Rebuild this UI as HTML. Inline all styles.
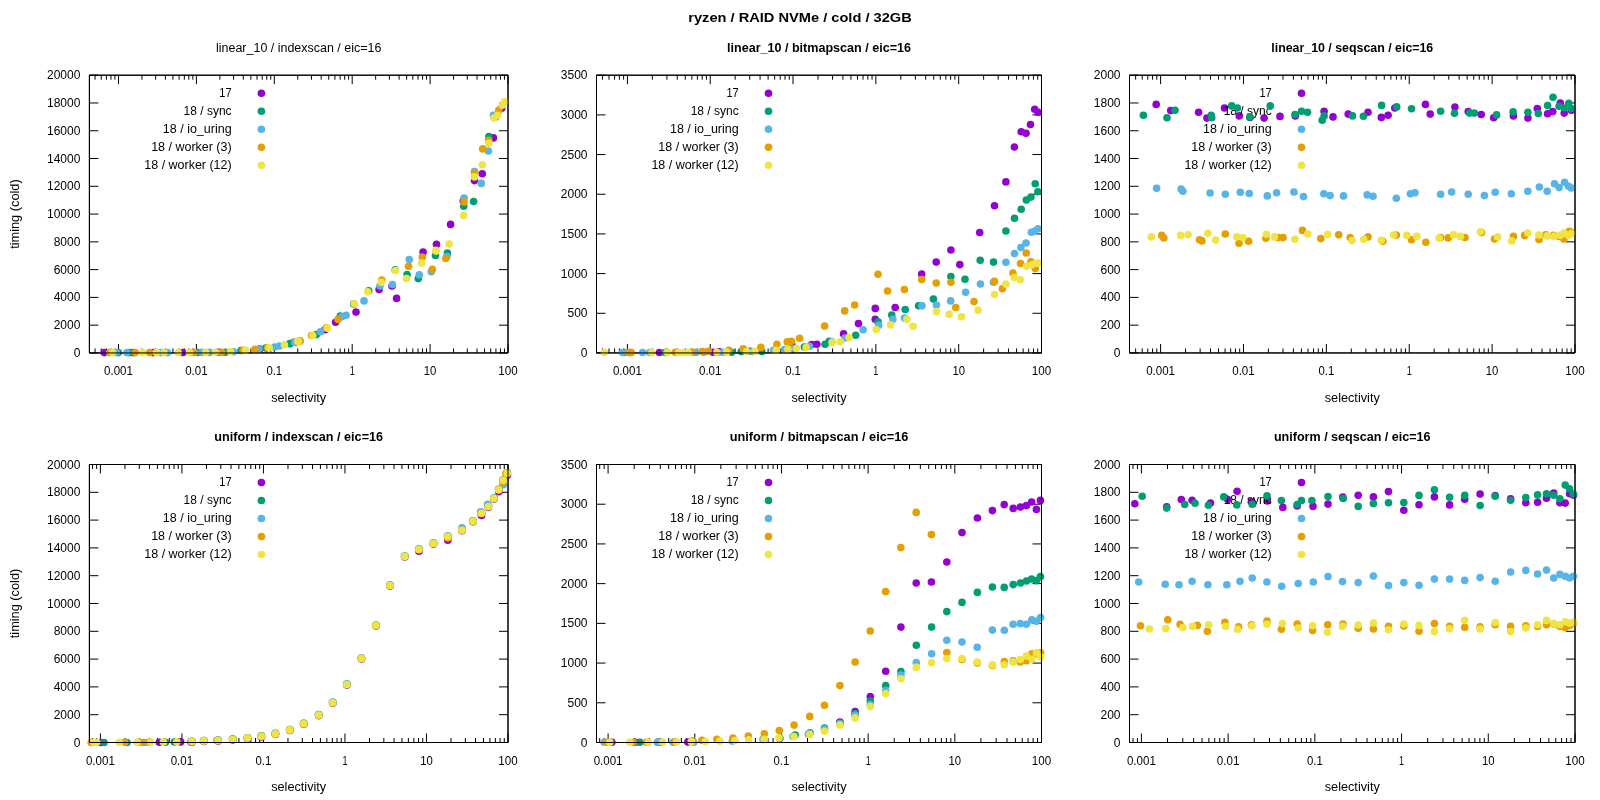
<!DOCTYPE html>
<html><head><meta charset="utf-8"><title>chart</title>
<style>html,body{margin:0;padding:0;background:#fff}svg{display:block;will-change:transform}text{font-family:"Liberation Sans",sans-serif;fill:#000}</style>
</head><body>
<svg width="1600" height="800" viewBox="0 0 1600 800">
<rect width="1600" height="800" fill="#fff"/>
<text x="800" y="22.4" text-anchor="middle" font-size="13.33" font-weight="bold" textLength="223.5" lengthAdjust="spacingAndGlyphs">ryzen / RAID NVMe / cold / 32GB</text>
<text x="80.4" y="356.95" text-anchor="end" font-size="12">0</text>
<text x="80.4" y="329.18" text-anchor="end" font-size="12">2000</text>
<text x="80.4" y="301.4" text-anchor="end" font-size="12">4000</text>
<text x="80.4" y="273.62" text-anchor="end" font-size="12">6000</text>
<text x="80.4" y="245.85" text-anchor="end" font-size="12">8000</text>
<text x="80.4" y="218.07" text-anchor="end" font-size="12">10000</text>
<text x="80.4" y="190.3" text-anchor="end" font-size="12">12000</text>
<text x="80.4" y="162.52" text-anchor="end" font-size="12">14000</text>
<text x="80.4" y="134.75" text-anchor="end" font-size="12">16000</text>
<text x="80.4" y="106.97" text-anchor="end" font-size="12">18000</text>
<text x="80.4" y="79.2" text-anchor="end" font-size="12">20000</text>
<text x="118.5" y="375.05" text-anchor="middle" font-size="12" textLength="28.9" lengthAdjust="spacingAndGlyphs">0.001</text>
<text x="196.4" y="375.05" text-anchor="middle" font-size="12" textLength="22.5" lengthAdjust="spacingAndGlyphs">0.01</text>
<text x="274.3" y="375.05" text-anchor="middle" font-size="12" textLength="15.8" lengthAdjust="spacingAndGlyphs">0.1</text>
<text x="352.2" y="375.05" text-anchor="middle" font-size="12" textLength="5" lengthAdjust="spacingAndGlyphs">1</text>
<text x="430.1" y="375.05" text-anchor="middle" font-size="12" textLength="12.6" lengthAdjust="spacingAndGlyphs">10</text>
<text x="508" y="375.05" text-anchor="middle" font-size="12" textLength="19.4" lengthAdjust="spacingAndGlyphs">100</text>
<path d="M89.4 75.2H508V352.95H89.4ZM89.4 352.95h9M508 352.95h-9M89.4 325.18h9M508 325.18h-9M89.4 297.4h9M508 297.4h-9M89.4 269.62h9M508 269.62h-9M89.4 241.85h9M508 241.85h-9M89.4 214.07h9M508 214.07h-9M89.4 186.3h9M508 186.3h-9M89.4 158.52h9M508 158.52h-9M89.4 130.75h9M508 130.75h-9M89.4 102.97h9M508 102.97h-9M89.4 75.2h9M508 75.2h-9M95.05 352.95v-4.5M95.05 75.2v4.5M101.22 352.95v-4.5M101.22 75.2v4.5M106.43 352.95v-4.5M106.43 75.2v4.5M110.95 352.95v-4.5M110.95 75.2v4.5M114.94 352.95v-4.5M114.94 75.2v4.5M118.5 352.95v-9M118.5 75.2v9M141.95 352.95v-4.5M141.95 75.2v4.5M155.67 352.95v-4.5M155.67 75.2v4.5M165.4 352.95v-4.5M165.4 75.2v4.5M172.95 352.95v-4.5M172.95 75.2v4.5M179.12 352.95v-4.5M179.12 75.2v4.5M184.33 352.95v-4.5M184.33 75.2v4.5M188.85 352.95v-4.5M188.85 75.2v4.5M192.84 352.95v-4.5M192.84 75.2v4.5M196.4 352.95v-9M196.4 75.2v9M219.85 352.95v-4.5M219.85 75.2v4.5M233.57 352.95v-4.5M233.57 75.2v4.5M243.3 352.95v-4.5M243.3 75.2v4.5M250.85 352.95v-4.5M250.85 75.2v4.5M257.02 352.95v-4.5M257.02 75.2v4.5M262.23 352.95v-4.5M262.23 75.2v4.5M266.75 352.95v-4.5M266.75 75.2v4.5M270.74 352.95v-4.5M270.74 75.2v4.5M274.3 352.95v-9M274.3 75.2v9M297.75 352.95v-4.5M297.75 75.2v4.5M311.47 352.95v-4.5M311.47 75.2v4.5M321.2 352.95v-4.5M321.2 75.2v4.5M328.75 352.95v-4.5M328.75 75.2v4.5M334.92 352.95v-4.5M334.92 75.2v4.5M340.13 352.95v-4.5M340.13 75.2v4.5M344.65 352.95v-4.5M344.65 75.2v4.5M348.64 352.95v-4.5M348.64 75.2v4.5M352.2 352.95v-9M352.2 75.2v9M375.65 352.95v-4.5M375.65 75.2v4.5M389.37 352.95v-4.5M389.37 75.2v4.5M399.1 352.95v-4.5M399.1 75.2v4.5M406.65 352.95v-4.5M406.65 75.2v4.5M412.82 352.95v-4.5M412.82 75.2v4.5M418.03 352.95v-4.5M418.03 75.2v4.5M422.55 352.95v-4.5M422.55 75.2v4.5M426.54 352.95v-4.5M426.54 75.2v4.5M430.1 352.95v-9M430.1 75.2v9M453.55 352.95v-4.5M453.55 75.2v4.5M467.27 352.95v-4.5M467.27 75.2v4.5M477 352.95v-4.5M477 75.2v4.5M484.55 352.95v-4.5M484.55 75.2v4.5M490.72 352.95v-4.5M490.72 75.2v4.5M495.93 352.95v-4.5M495.93 75.2v4.5M500.45 352.95v-4.5M500.45 75.2v4.5M504.44 352.95v-4.5M504.44 75.2v4.5M508 352.95v-9M508 75.2v9" fill="none" stroke="#000" stroke-width="1"/>
<text x="298.7" y="51.9" text-anchor="middle" font-size="12" textLength="165.4" lengthAdjust="spacingAndGlyphs">linear_10 / indexscan / eic=16</text>
<text x="298.7" y="401.65" text-anchor="middle" font-size="12" textLength="55" lengthAdjust="spacingAndGlyphs">selectivity</text>
<text transform="translate(18.6 214.07) rotate(-90)" text-anchor="middle" font-size="12" textLength="69.5" lengthAdjust="spacingAndGlyphs">timing (cold)</text>
<text x="231.6" y="96.9" text-anchor="end" font-size="12" textLength="12.25" lengthAdjust="spacingAndGlyphs">17</text>
<g fill="#9400d3"><circle cx="104.2" cy="352.6" r="3.8"/><circle cx="133.1" cy="352.6" r="3.8"/><circle cx="153" cy="352.6" r="3.8"/><circle cx="182.9" cy="352.5" r="3.8"/><circle cx="217.7" cy="352.3" r="3.8"/><circle cx="259.6" cy="349" r="3.8"/><circle cx="294" cy="342.3" r="3.8"/><circle cx="325" cy="329.75" r="3.8"/><circle cx="335.6" cy="322.2" r="3.8"/><circle cx="356" cy="312.1" r="3.8"/><circle cx="379.1" cy="289.6" r="3.8"/><circle cx="392" cy="286" r="3.8"/><circle cx="396.6" cy="298.4" r="3.8"/><circle cx="423.1" cy="252.1" r="3.8"/><circle cx="436.5" cy="244.4" r="3.8"/><circle cx="450.6" cy="224.4" r="3.8"/><circle cx="463.3" cy="200.9" r="3.8"/><circle cx="474.5" cy="180.6" r="3.8"/><circle cx="482.25" cy="173.75" r="3.8"/><circle cx="493.4" cy="137.9" r="3.8"/><circle cx="501.7" cy="108.2" r="3.8"/><circle cx="495.5" cy="117" r="3.8"/><circle cx="261.4" cy="93.2" r="3.8"/></g>
<text x="231.6" y="114.9" text-anchor="end" font-size="12" textLength="48" lengthAdjust="spacingAndGlyphs">18 / sync</text>
<g fill="#009e73"><circle cx="118.3" cy="352.6" r="3.8"/><circle cx="129" cy="352.6" r="3.8"/><circle cx="197.7" cy="352.5" r="3.8"/><circle cx="225.2" cy="352.2" r="3.8"/><circle cx="241" cy="350.5" r="3.8"/><circle cx="265.8" cy="348" r="3.8"/><circle cx="289.9" cy="343.7" r="3.8"/><circle cx="290" cy="343.5" r="3.8"/><circle cx="316.4" cy="334.6" r="3.8"/><circle cx="340.3" cy="316" r="3.8"/><circle cx="353.7" cy="303.9" r="3.8"/><circle cx="368.7" cy="290.7" r="3.8"/><circle cx="395.3" cy="269.9" r="3.8"/><circle cx="407.1" cy="274.5" r="3.8"/><circle cx="418.3" cy="278.6" r="3.8"/><circle cx="435.5" cy="255.5" r="3.8"/><circle cx="447.4" cy="253" r="3.8"/><circle cx="463.75" cy="206.25" r="3.8"/><circle cx="473.6" cy="201.5" r="3.8"/><circle cx="488.9" cy="136.5" r="3.8"/><circle cx="261.4" cy="111.2" r="3.8"/></g>
<text x="231.6" y="132.9" text-anchor="end" font-size="12" textLength="68.75" lengthAdjust="spacingAndGlyphs">18 / io_uring</text>
<g fill="#56b4e9"><circle cx="116.3" cy="352.6" r="3.8"/><circle cx="126.9" cy="352.6" r="3.8"/><circle cx="161.3" cy="352.6" r="3.8"/><circle cx="167.5" cy="352.6" r="3.8"/><circle cx="190.5" cy="352.5" r="3.8"/><circle cx="201.9" cy="352.4" r="3.8"/><circle cx="209.4" cy="352.4" r="3.8"/><circle cx="233.5" cy="351.8" r="3.8"/><circle cx="258.9" cy="349.2" r="3.8"/><circle cx="274.7" cy="347" r="3.8"/><circle cx="279.5" cy="346" r="3.8"/><circle cx="296" cy="342" r="3.8"/><circle cx="294.8" cy="342.4" r="3.8"/><circle cx="320.5" cy="331.8" r="3.8"/><circle cx="342" cy="316.7" r="3.8"/><circle cx="346.1" cy="315.3" r="3.8"/><circle cx="364" cy="300.9" r="3.8"/><circle cx="380" cy="286" r="3.8"/><circle cx="392.4" cy="284.6" r="3.8"/><circle cx="409.3" cy="259.6" r="3.8"/><circle cx="419.25" cy="274.75" r="3.8"/><circle cx="431.3" cy="271.7" r="3.8"/><circle cx="446.9" cy="256.6" r="3.8"/><circle cx="464.1" cy="198.1" r="3.8"/><circle cx="474.5" cy="171.5" r="3.8"/><circle cx="481.25" cy="183.4" r="3.8"/><circle cx="488.4" cy="151" r="3.8"/><circle cx="493.4" cy="115.4" r="3.8"/><circle cx="261.4" cy="129.2" r="3.8"/></g>
<text x="231.6" y="150.9" text-anchor="end" font-size="12" textLength="80.4" lengthAdjust="spacingAndGlyphs">18 / worker (3)</text>
<g fill="#e69f00"><circle cx="109.7" cy="352.6" r="3.8"/><circle cx="135.2" cy="352.6" r="3.8"/><circle cx="149.6" cy="352.6" r="3.8"/><circle cx="194.3" cy="352.5" r="3.8"/><circle cx="221.8" cy="352.3" r="3.8"/><circle cx="243.1" cy="350.4" r="3.8"/><circle cx="254.8" cy="349.2" r="3.8"/><circle cx="267.6" cy="347.8" r="3.8"/><circle cx="300.2" cy="341" r="3.8"/><circle cx="299.6" cy="340.75" r="3.8"/><circle cx="311.5" cy="335.5" r="3.8"/><circle cx="326.4" cy="327.8" r="3.8"/><circle cx="338.1" cy="319.4" r="3.8"/><circle cx="381.8" cy="280" r="3.8"/><circle cx="408.5" cy="266.2" r="3.8"/><circle cx="422.3" cy="257.1" r="3.8"/><circle cx="432.3" cy="269.25" r="3.8"/><circle cx="445.8" cy="258.5" r="3.8"/><circle cx="464.1" cy="201.9" r="3.8"/><circle cx="474.6" cy="172.9" r="3.8"/><circle cx="482.7" cy="148.9" r="3.8"/><circle cx="488.7" cy="140.3" r="3.8"/><circle cx="498.75" cy="110.4" r="3.8"/><circle cx="261.4" cy="147.2" r="3.8"/></g>
<text x="231.6" y="168.9" text-anchor="end" font-size="12" textLength="87.3" lengthAdjust="spacingAndGlyphs">18 / worker (12)</text>
<g fill="#f0e442"><circle cx="112.5" cy="352.6" r="3.8"/><circle cx="142.5" cy="352.6" r="3.8"/><circle cx="156.5" cy="352.6" r="3.8"/><circle cx="164" cy="352.6" r="3.8"/><circle cx="178.2" cy="352.6" r="3.8"/><circle cx="189.5" cy="352.5" r="3.8"/><circle cx="205.7" cy="352.4" r="3.8"/><circle cx="215.6" cy="352.3" r="3.8"/><circle cx="230.5" cy="351.6" r="3.8"/><circle cx="245.6" cy="350.2" r="3.8"/><circle cx="269.2" cy="347.7" r="3.8"/><circle cx="284.4" cy="344.7" r="3.8"/><circle cx="298.4" cy="341.2" r="3.8"/><circle cx="297.6" cy="341.2" r="3.8"/><circle cx="312.7" cy="335.5" r="3.8"/><circle cx="327.4" cy="328.1" r="3.8"/><circle cx="354.2" cy="303.6" r="3.8"/><circle cx="367.7" cy="291.7" r="3.8"/><circle cx="381.2" cy="282.3" r="3.8"/><circle cx="395.6" cy="270.6" r="3.8"/><circle cx="406.5" cy="278.6" r="3.8"/><circle cx="421.7" cy="263" r="3.8"/><circle cx="436" cy="251.1" r="3.8"/><circle cx="435.9" cy="250.25" r="3.8"/><circle cx="449.1" cy="244.1" r="3.8"/><circle cx="463.6" cy="215.4" r="3.8"/><circle cx="474.5" cy="176.9" r="3.8"/><circle cx="482.4" cy="164.7" r="3.8"/><circle cx="488.7" cy="143.25" r="3.8"/><circle cx="494" cy="118" r="3.8"/><circle cx="497.6" cy="115.4" r="3.8"/><circle cx="502.3" cy="105.3" r="3.8"/><circle cx="504.7" cy="101.7" r="3.8"/><circle cx="261.4" cy="165.2" r="3.8"/></g>
<path d="M89.4 75.2H508V352.95H89.4Z" fill="none" stroke="#000" stroke-width="1"/>
<text x="587.5" y="356.95" text-anchor="end" font-size="12">0</text>
<text x="587.5" y="317.27" text-anchor="end" font-size="12">500</text>
<text x="587.5" y="277.59" text-anchor="end" font-size="12">1000</text>
<text x="587.5" y="237.91" text-anchor="end" font-size="12">1500</text>
<text x="587.5" y="198.24" text-anchor="end" font-size="12">2000</text>
<text x="587.5" y="158.56" text-anchor="end" font-size="12">2500</text>
<text x="587.5" y="118.88" text-anchor="end" font-size="12">3000</text>
<text x="587.5" y="79.2" text-anchor="end" font-size="12">3500</text>
<text x="627.4" y="375.05" text-anchor="middle" font-size="12" textLength="28.9" lengthAdjust="spacingAndGlyphs">0.001</text>
<text x="710.22" y="375.05" text-anchor="middle" font-size="12" textLength="22.5" lengthAdjust="spacingAndGlyphs">0.01</text>
<text x="793.04" y="375.05" text-anchor="middle" font-size="12" textLength="15.8" lengthAdjust="spacingAndGlyphs">0.1</text>
<text x="875.86" y="375.05" text-anchor="middle" font-size="12" textLength="5" lengthAdjust="spacingAndGlyphs">1</text>
<text x="958.68" y="375.05" text-anchor="middle" font-size="12" textLength="12.6" lengthAdjust="spacingAndGlyphs">10</text>
<text x="1041.5" y="375.05" text-anchor="middle" font-size="12" textLength="19.4" lengthAdjust="spacingAndGlyphs">100</text>
<path d="M596.5 75.2H1041.5V352.95H596.5ZM596.5 352.95h9M1041.5 352.95h-9M596.5 313.27h9M1041.5 313.27h-9M596.5 273.59h9M1041.5 273.59h-9M596.5 233.91h9M1041.5 233.91h-9M596.5 194.24h9M1041.5 194.24h-9M596.5 154.56h9M1041.5 154.56h-9M596.5 114.88h9M1041.5 114.88h-9M596.5 75.2h9M1041.5 75.2h-9M602.47 352.95v-4.5M602.47 75.2v4.5M609.03 352.95v-4.5M609.03 75.2v4.5M614.57 352.95v-4.5M614.57 75.2v4.5M619.37 352.95v-4.5M619.37 75.2v4.5M623.61 352.95v-4.5M623.61 75.2v4.5M627.4 352.95v-9M627.4 75.2v9M652.33 352.95v-4.5M652.33 75.2v4.5M666.92 352.95v-4.5M666.92 75.2v4.5M677.26 352.95v-4.5M677.26 75.2v4.5M685.29 352.95v-4.5M685.29 75.2v4.5M691.85 352.95v-4.5M691.85 75.2v4.5M697.39 352.95v-4.5M697.39 75.2v4.5M702.19 352.95v-4.5M702.19 75.2v4.5M706.43 352.95v-4.5M706.43 75.2v4.5M710.22 352.95v-9M710.22 75.2v9M735.15 352.95v-4.5M735.15 75.2v4.5M749.74 352.95v-4.5M749.74 75.2v4.5M760.08 352.95v-4.5M760.08 75.2v4.5M768.11 352.95v-4.5M768.11 75.2v4.5M774.67 352.95v-4.5M774.67 75.2v4.5M780.21 352.95v-4.5M780.21 75.2v4.5M785.01 352.95v-4.5M785.01 75.2v4.5M789.25 352.95v-4.5M789.25 75.2v4.5M793.04 352.95v-9M793.04 75.2v9M817.97 352.95v-4.5M817.97 75.2v4.5M832.56 352.95v-4.5M832.56 75.2v4.5M842.9 352.95v-4.5M842.9 75.2v4.5M850.93 352.95v-4.5M850.93 75.2v4.5M857.49 352.95v-4.5M857.49 75.2v4.5M863.03 352.95v-4.5M863.03 75.2v4.5M867.83 352.95v-4.5M867.83 75.2v4.5M872.07 352.95v-4.5M872.07 75.2v4.5M875.86 352.95v-9M875.86 75.2v9M900.79 352.95v-4.5M900.79 75.2v4.5M915.38 352.95v-4.5M915.38 75.2v4.5M925.72 352.95v-4.5M925.72 75.2v4.5M933.75 352.95v-4.5M933.75 75.2v4.5M940.31 352.95v-4.5M940.31 75.2v4.5M945.85 352.95v-4.5M945.85 75.2v4.5M950.65 352.95v-4.5M950.65 75.2v4.5M954.89 352.95v-4.5M954.89 75.2v4.5M958.68 352.95v-9M958.68 75.2v9M983.61 352.95v-4.5M983.61 75.2v4.5M998.2 352.95v-4.5M998.2 75.2v4.5M1008.54 352.95v-4.5M1008.54 75.2v4.5M1016.57 352.95v-4.5M1016.57 75.2v4.5M1023.13 352.95v-4.5M1023.13 75.2v4.5M1028.67 352.95v-4.5M1028.67 75.2v4.5M1033.47 352.95v-4.5M1033.47 75.2v4.5M1037.71 352.95v-4.5M1037.71 75.2v4.5M1041.5 352.95v-9M1041.5 75.2v9" fill="none" stroke="#000" stroke-width="1"/>
<text x="819" y="51.9" text-anchor="middle" font-size="12" font-weight="bold" textLength="184" lengthAdjust="spacingAndGlyphs">linear_10 / bitmapscan / eic=16</text>
<text x="819" y="401.65" text-anchor="middle" font-size="12" textLength="55" lengthAdjust="spacingAndGlyphs">selectivity</text>
<text x="738.7" y="96.9" text-anchor="end" font-size="12" textLength="12.25" lengthAdjust="spacingAndGlyphs">17</text>
<g fill="#9400d3"><circle cx="630" cy="352.5" r="3.8"/><circle cx="659.4" cy="352.5" r="3.8"/><circle cx="713" cy="352.3" r="3.8"/><circle cx="719.2" cy="351.8" r="3.8"/><circle cx="750.1" cy="351.2" r="3.8"/><circle cx="792" cy="345.4" r="3.8"/><circle cx="811.7" cy="344.5" r="3.8"/><circle cx="816.8" cy="344.2" r="3.8"/><circle cx="843.6" cy="333.9" r="3.8"/><circle cx="858.5" cy="323.6" r="3.8"/><circle cx="875.25" cy="308.4" r="3.8"/><circle cx="875.25" cy="319.2" r="3.8"/><circle cx="895.2" cy="307.5" r="3.8"/><circle cx="921.7" cy="274.1" r="3.8"/><circle cx="936.2" cy="262.1" r="3.8"/><circle cx="950.9" cy="250" r="3.8"/><circle cx="959.8" cy="264.6" r="3.8"/><circle cx="979.7" cy="232.5" r="3.8"/><circle cx="994.5" cy="205.8" r="3.8"/><circle cx="1005.9" cy="181.9" r="3.8"/><circle cx="1014.4" cy="147" r="3.8"/><circle cx="1021.2" cy="131.75" r="3.8"/><circle cx="1026" cy="133.25" r="3.8"/><circle cx="1030.5" cy="124.5" r="3.8"/><circle cx="1034.7" cy="109.25" r="3.8"/><circle cx="1038" cy="112.25" r="3.8"/><circle cx="768.5" cy="93.2" r="3.8"/></g>
<text x="738.7" y="114.9" text-anchor="end" font-size="12" textLength="48" lengthAdjust="spacingAndGlyphs">18 / sync</text>
<g fill="#009e73"><circle cx="624.3" cy="352.5" r="3.8"/><circle cx="664.9" cy="352.5" r="3.8"/><circle cx="731.6" cy="352.3" r="3.8"/><circle cx="741.2" cy="351.6" r="3.8"/><circle cx="761.8" cy="351.6" r="3.8"/><circle cx="804.4" cy="347" r="3.8"/><circle cx="825" cy="344.2" r="3.8"/><circle cx="829.2" cy="341.4" r="3.8"/><circle cx="855.7" cy="335.25" r="3.8"/><circle cx="878" cy="321.8" r="3.8"/><circle cx="891.75" cy="315" r="3.8"/><circle cx="905.2" cy="309.5" r="3.8"/><circle cx="918.6" cy="305.7" r="3.8"/><circle cx="933.4" cy="299.1" r="3.8"/><circle cx="950.9" cy="276.5" r="3.8"/><circle cx="965" cy="279.2" r="3.8"/><circle cx="980.2" cy="260.3" r="3.8"/><circle cx="993.5" cy="262.1" r="3.8"/><circle cx="1005.9" cy="231" r="3.8"/><circle cx="1014.5" cy="218.25" r="3.8"/><circle cx="1021.2" cy="209.25" r="3.8"/><circle cx="1026.3" cy="200" r="3.8"/><circle cx="1031" cy="197.1" r="3.8"/><circle cx="1035.2" cy="183.8" r="3.8"/><circle cx="1037.8" cy="191.7" r="3.8"/><circle cx="768.5" cy="111.2" r="3.8"/></g>
<text x="738.7" y="132.9" text-anchor="end" font-size="12" textLength="68.75" lengthAdjust="spacingAndGlyphs">18 / io_uring</text>
<g fill="#56b4e9"><circle cx="622.5" cy="352.5" r="3.8"/><circle cx="642.6" cy="352.5" r="3.8"/><circle cx="649.75" cy="352.5" r="3.8"/><circle cx="695.8" cy="352.4" r="3.8"/><circle cx="704" cy="352.3" r="3.8"/><circle cx="723.3" cy="352.2" r="3.8"/><circle cx="752.2" cy="351.6" r="3.8"/><circle cx="773.5" cy="350.2" r="3.8"/><circle cx="784.5" cy="349.5" r="3.8"/><circle cx="790.7" cy="348.3" r="3.8"/><circle cx="809.5" cy="346.2" r="3.8"/><circle cx="831.9" cy="341.8" r="3.8"/><circle cx="845" cy="338" r="3.8"/><circle cx="863.1" cy="329.75" r="3.8"/><circle cx="878.7" cy="325.3" r="3.8"/><circle cx="892.8" cy="319.2" r="3.8"/><circle cx="904.4" cy="318.1" r="3.8"/><circle cx="922" cy="305.7" r="3.8"/><circle cx="936.4" cy="305" r="3.8"/><circle cx="950.6" cy="300.9" r="3.8"/><circle cx="965.6" cy="292.3" r="3.8"/><circle cx="980.4" cy="284" r="3.8"/><circle cx="993.5" cy="282.3" r="3.8"/><circle cx="1005.9" cy="262.2" r="3.8"/><circle cx="1014.5" cy="253.5" r="3.8"/><circle cx="1020.9" cy="247.5" r="3.8"/><circle cx="1026" cy="243" r="3.8"/><circle cx="1031.4" cy="232.2" r="3.8"/><circle cx="1034.75" cy="231" r="3.8"/><circle cx="1038" cy="228.75" r="3.8"/><circle cx="768.5" cy="129.2" r="3.8"/></g>
<text x="738.7" y="150.9" text-anchor="end" font-size="12" textLength="80.4" lengthAdjust="spacingAndGlyphs">18 / worker (3)</text>
<g fill="#e69f00"><circle cx="628.4" cy="352.5" r="3.8"/><circle cx="631.2" cy="352.5" r="3.8"/><circle cx="666.9" cy="352.3" r="3.8"/><circle cx="675.2" cy="352.3" r="3.8"/><circle cx="691.7" cy="352" r="3.8"/><circle cx="702" cy="351.6" r="3.8"/><circle cx="708.2" cy="351.2" r="3.8"/><circle cx="728.8" cy="350.2" r="3.8"/><circle cx="743.25" cy="348.8" r="3.8"/><circle cx="760.8" cy="347.4" r="3.8"/><circle cx="776.9" cy="344.3" r="3.8"/><circle cx="787.25" cy="341.9" r="3.8"/><circle cx="791.4" cy="341.2" r="3.8"/><circle cx="799.6" cy="338.3" r="3.8"/><circle cx="824.6" cy="326" r="3.8"/><circle cx="844.7" cy="310.9" r="3.8"/><circle cx="854.6" cy="305" r="3.8"/><circle cx="878" cy="274.3" r="3.8"/><circle cx="887.6" cy="291" r="3.8"/><circle cx="904.4" cy="289.6" r="3.8"/><circle cx="921.7" cy="279.6" r="3.8"/><circle cx="936.2" cy="283" r="3.8"/><circle cx="950.9" cy="282.3" r="3.8"/><circle cx="955.7" cy="307.5" r="3.8"/><circle cx="974" cy="301.6" r="3.8"/><circle cx="994.5" cy="281.4" r="3.8"/><circle cx="1002.4" cy="288.8" r="3.8"/><circle cx="1013" cy="273" r="3.8"/><circle cx="1020.5" cy="263.5" r="3.8"/><circle cx="1026.2" cy="253" r="3.8"/><circle cx="1031" cy="261.75" r="3.8"/><circle cx="1035.2" cy="268.5" r="3.8"/><circle cx="768.5" cy="147.2" r="3.8"/></g>
<text x="738.7" y="168.9" text-anchor="end" font-size="12" textLength="87.3" lengthAdjust="spacingAndGlyphs">18 / worker (12)</text>
<g fill="#f0e442"><circle cx="604.4" cy="352.5" r="3.8"/><circle cx="651.8" cy="352.5" r="3.8"/><circle cx="667.3" cy="352.5" r="3.8"/><circle cx="678.6" cy="352.5" r="3.8"/><circle cx="683.4" cy="352.5" r="3.8"/><circle cx="688.25" cy="352.5" r="3.8"/><circle cx="716.8" cy="352.3" r="3.8"/><circle cx="726.5" cy="352" r="3.8"/><circle cx="746.7" cy="351.6" r="3.8"/><circle cx="754.9" cy="351.2" r="3.8"/><circle cx="776.25" cy="350.2" r="3.8"/><circle cx="787.9" cy="349.2" r="3.8"/><circle cx="796.4" cy="348.4" r="3.8"/><circle cx="806.1" cy="347.4" r="3.8"/><circle cx="832.2" cy="342.5" r="3.8"/><circle cx="840.2" cy="341.8" r="3.8"/><circle cx="849.1" cy="337.6" r="3.8"/><circle cx="876.2" cy="329.5" r="3.8"/><circle cx="890.6" cy="324.9" r="3.8"/><circle cx="906.9" cy="319.2" r="3.8"/><circle cx="913.1" cy="326.3" r="3.8"/><circle cx="936.4" cy="311.5" r="3.8"/><circle cx="949.1" cy="314.3" r="3.8"/><circle cx="961.5" cy="316.7" r="3.8"/><circle cx="978.1" cy="310.2" r="3.8"/><circle cx="994.6" cy="294.5" r="3.8"/><circle cx="1005.9" cy="284.1" r="3.8"/><circle cx="1014.2" cy="277.5" r="3.8"/><circle cx="1020.2" cy="279.75" r="3.8"/><circle cx="1026.5" cy="266.25" r="3.8"/><circle cx="1031.75" cy="264.75" r="3.8"/><circle cx="1035.5" cy="263.25" r="3.8"/><circle cx="1038.5" cy="263" r="3.8"/><circle cx="768.5" cy="165.2" r="3.8"/></g>
<path d="M596.5 75.2H1041.5V352.95H596.5Z" fill="none" stroke="#000" stroke-width="1"/>
<text x="1120.5" y="356.95" text-anchor="end" font-size="12">0</text>
<text x="1120.5" y="329.18" text-anchor="end" font-size="12">200</text>
<text x="1120.5" y="301.4" text-anchor="end" font-size="12">400</text>
<text x="1120.5" y="273.62" text-anchor="end" font-size="12">600</text>
<text x="1120.5" y="245.85" text-anchor="end" font-size="12">800</text>
<text x="1120.5" y="218.07" text-anchor="end" font-size="12">1000</text>
<text x="1120.5" y="190.3" text-anchor="end" font-size="12">1200</text>
<text x="1120.5" y="162.52" text-anchor="end" font-size="12">1400</text>
<text x="1120.5" y="134.75" text-anchor="end" font-size="12">1600</text>
<text x="1120.5" y="106.97" text-anchor="end" font-size="12">1800</text>
<text x="1120.5" y="79.2" text-anchor="end" font-size="12">2000</text>
<text x="1160.6" y="375.05" text-anchor="middle" font-size="12" textLength="28.9" lengthAdjust="spacingAndGlyphs">0.001</text>
<text x="1243.48" y="375.05" text-anchor="middle" font-size="12" textLength="22.5" lengthAdjust="spacingAndGlyphs">0.01</text>
<text x="1326.36" y="375.05" text-anchor="middle" font-size="12" textLength="15.8" lengthAdjust="spacingAndGlyphs">0.1</text>
<text x="1409.24" y="375.05" text-anchor="middle" font-size="12" textLength="5" lengthAdjust="spacingAndGlyphs">1</text>
<text x="1492.12" y="375.05" text-anchor="middle" font-size="12" textLength="12.6" lengthAdjust="spacingAndGlyphs">10</text>
<text x="1575" y="375.05" text-anchor="middle" font-size="12" textLength="19.4" lengthAdjust="spacingAndGlyphs">100</text>
<path d="M1129.5 75.2H1575V352.95H1129.5ZM1129.5 352.95h9M1575 352.95h-9M1129.5 325.18h9M1575 325.18h-9M1129.5 297.4h9M1575 297.4h-9M1129.5 269.62h9M1575 269.62h-9M1129.5 241.85h9M1575 241.85h-9M1129.5 214.07h9M1575 214.07h-9M1129.5 186.3h9M1575 186.3h-9M1129.5 158.52h9M1575 158.52h-9M1129.5 130.75h9M1575 130.75h-9M1129.5 102.97h9M1575 102.97h-9M1129.5 75.2h9M1575 75.2h-9M1135.65 352.95v-4.5M1135.65 75.2v4.5M1142.21 352.95v-4.5M1142.21 75.2v4.5M1147.76 352.95v-4.5M1147.76 75.2v4.5M1152.57 352.95v-4.5M1152.57 75.2v4.5M1156.81 352.95v-4.5M1156.81 75.2v4.5M1160.6 352.95v-9M1160.6 75.2v9M1185.55 352.95v-4.5M1185.55 75.2v4.5M1200.14 352.95v-4.5M1200.14 75.2v4.5M1210.5 352.95v-4.5M1210.5 75.2v4.5M1218.53 352.95v-4.5M1218.53 75.2v4.5M1225.09 352.95v-4.5M1225.09 75.2v4.5M1230.64 352.95v-4.5M1230.64 75.2v4.5M1235.45 352.95v-4.5M1235.45 75.2v4.5M1239.69 352.95v-4.5M1239.69 75.2v4.5M1243.48 352.95v-9M1243.48 75.2v9M1268.43 352.95v-4.5M1268.43 75.2v4.5M1283.02 352.95v-4.5M1283.02 75.2v4.5M1293.38 352.95v-4.5M1293.38 75.2v4.5M1301.41 352.95v-4.5M1301.41 75.2v4.5M1307.97 352.95v-4.5M1307.97 75.2v4.5M1313.52 352.95v-4.5M1313.52 75.2v4.5M1318.33 352.95v-4.5M1318.33 75.2v4.5M1322.57 352.95v-4.5M1322.57 75.2v4.5M1326.36 352.95v-9M1326.36 75.2v9M1351.31 352.95v-4.5M1351.31 75.2v4.5M1365.9 352.95v-4.5M1365.9 75.2v4.5M1376.26 352.95v-4.5M1376.26 75.2v4.5M1384.29 352.95v-4.5M1384.29 75.2v4.5M1390.85 352.95v-4.5M1390.85 75.2v4.5M1396.4 352.95v-4.5M1396.4 75.2v4.5M1401.21 352.95v-4.5M1401.21 75.2v4.5M1405.45 352.95v-4.5M1405.45 75.2v4.5M1409.24 352.95v-9M1409.24 75.2v9M1434.19 352.95v-4.5M1434.19 75.2v4.5M1448.78 352.95v-4.5M1448.78 75.2v4.5M1459.14 352.95v-4.5M1459.14 75.2v4.5M1467.17 352.95v-4.5M1467.17 75.2v4.5M1473.73 352.95v-4.5M1473.73 75.2v4.5M1479.28 352.95v-4.5M1479.28 75.2v4.5M1484.09 352.95v-4.5M1484.09 75.2v4.5M1488.33 352.95v-4.5M1488.33 75.2v4.5M1492.12 352.95v-9M1492.12 75.2v9M1517.07 352.95v-4.5M1517.07 75.2v4.5M1531.66 352.95v-4.5M1531.66 75.2v4.5M1542.02 352.95v-4.5M1542.02 75.2v4.5M1550.05 352.95v-4.5M1550.05 75.2v4.5M1556.61 352.95v-4.5M1556.61 75.2v4.5M1562.16 352.95v-4.5M1562.16 75.2v4.5M1566.97 352.95v-4.5M1566.97 75.2v4.5M1571.21 352.95v-4.5M1571.21 75.2v4.5M1575 352.95v-9M1575 75.2v9" fill="none" stroke="#000" stroke-width="1"/>
<text x="1352.25" y="51.9" text-anchor="middle" font-size="12" font-weight="bold" textLength="162" lengthAdjust="spacingAndGlyphs">linear_10 / seqscan / eic=16</text>
<text x="1352.25" y="401.65" text-anchor="middle" font-size="12" textLength="55" lengthAdjust="spacingAndGlyphs">selectivity</text>
<text x="1271.7" y="96.9" text-anchor="end" font-size="12" textLength="12.25" lengthAdjust="spacingAndGlyphs">17</text>
<g fill="#9400d3"><circle cx="1156.2" cy="104.4" r="3.8"/><circle cx="1170.7" cy="110.6" r="3.8"/><circle cx="1198.6" cy="112.3" r="3.8"/><circle cx="1206.9" cy="118.1" r="3.8"/><circle cx="1224.5" cy="108" r="3.8"/><circle cx="1239.3" cy="115.9" r="3.8"/><circle cx="1250" cy="117.5" r="3.8"/><circle cx="1264.1" cy="118.1" r="3.8"/><circle cx="1280" cy="116.4" r="3.8"/><circle cx="1295.3" cy="115.9" r="3.8"/><circle cx="1324.1" cy="111.2" r="3.8"/><circle cx="1333" cy="116.9" r="3.8"/><circle cx="1348.2" cy="114.1" r="3.8"/><circle cx="1368" cy="112.3" r="3.8"/><circle cx="1381.3" cy="117.4" r="3.8"/><circle cx="1388.1" cy="115.2" r="3.8"/><circle cx="1394.8" cy="108" r="3.8"/><circle cx="1425.5" cy="104.4" r="3.8"/><circle cx="1430.2" cy="114.1" r="3.8"/><circle cx="1454.9" cy="107" r="3.8"/><circle cx="1468.2" cy="111.6" r="3.8"/><circle cx="1481.2" cy="114.5" r="3.8"/><circle cx="1493.7" cy="117.7" r="3.8"/><circle cx="1513.4" cy="115.9" r="3.8"/><circle cx="1527.9" cy="118.1" r="3.8"/><circle cx="1537.3" cy="108.5" r="3.8"/><circle cx="1547.6" cy="113.8" r="3.8"/><circle cx="1552.7" cy="111.6" r="3.8"/><circle cx="1560.3" cy="103" r="3.8"/><circle cx="1564.2" cy="113.1" r="3.8"/><circle cx="1571.4" cy="110.2" r="3.8"/><circle cx="1301.5" cy="93.2" r="3.8"/></g>
<text x="1271.7" y="114.9" text-anchor="end" font-size="12" textLength="48" lengthAdjust="spacingAndGlyphs">18 / sync</text>
<g fill="#009e73"><circle cx="1143.4" cy="115.2" r="3.8"/><circle cx="1167" cy="117.8" r="3.8"/><circle cx="1175" cy="110.2" r="3.8"/><circle cx="1211.2" cy="115.2" r="3.8"/><circle cx="1211.7" cy="117.7" r="3.8"/><circle cx="1231.7" cy="105.9" r="3.8"/><circle cx="1237.4" cy="108" r="3.8"/><circle cx="1249.8" cy="116.9" r="3.8"/><circle cx="1270.2" cy="105.9" r="3.8"/><circle cx="1295" cy="114.5" r="3.8"/><circle cx="1307.5" cy="112.3" r="3.8"/><circle cx="1324.1" cy="115.9" r="3.8"/><circle cx="1322.2" cy="120.2" r="3.8"/><circle cx="1352.5" cy="115.9" r="3.8"/><circle cx="1363.4" cy="116.2" r="3.8"/><circle cx="1381.6" cy="105.4" r="3.8"/><circle cx="1396.7" cy="106.9" r="3.8"/><circle cx="1411.5" cy="108.7" r="3.8"/><circle cx="1440.6" cy="111.3" r="3.8"/><circle cx="1454.5" cy="113.3" r="3.8"/><circle cx="1469.6" cy="113.1" r="3.8"/><circle cx="1474.3" cy="113.1" r="3.8"/><circle cx="1496.6" cy="114.9" r="3.8"/><circle cx="1513.1" cy="111.9" r="3.8"/><circle cx="1527.9" cy="112.3" r="3.8"/><circle cx="1538.3" cy="113.5" r="3.8"/><circle cx="1547.6" cy="105.6" r="3.8"/><circle cx="1553" cy="97.2" r="3.8"/><circle cx="1559.1" cy="106.3" r="3.8"/><circle cx="1564.2" cy="108" r="3.8"/><circle cx="1568.8" cy="103.3" r="3.8"/><circle cx="1571.4" cy="108.5" r="3.8"/><circle cx="1301.5" cy="111.2" r="3.8"/></g>
<text x="1271.7" y="132.9" text-anchor="end" font-size="12" textLength="68.75" lengthAdjust="spacingAndGlyphs">18 / io_uring</text>
<g fill="#56b4e9"><circle cx="1156.6" cy="188.3" r="3.8"/><circle cx="1181.1" cy="189.1" r="3.8"/><circle cx="1182.9" cy="191.3" r="3.8"/><circle cx="1210.1" cy="193" r="3.8"/><circle cx="1225.3" cy="194.2" r="3.8"/><circle cx="1240.3" cy="192.3" r="3.8"/><circle cx="1249.2" cy="193.5" r="3.8"/><circle cx="1267.3" cy="195.9" r="3.8"/><circle cx="1276.6" cy="192.7" r="3.8"/><circle cx="1293.9" cy="192" r="3.8"/><circle cx="1303.5" cy="196.6" r="3.8"/><circle cx="1323.8" cy="193.7" r="3.8"/><circle cx="1330.1" cy="195.6" r="3.8"/><circle cx="1343.5" cy="195.9" r="3.8"/><circle cx="1367.2" cy="194.9" r="3.8"/><circle cx="1373" cy="196.3" r="3.8"/><circle cx="1396.3" cy="198.3" r="3.8"/><circle cx="1410.4" cy="193.7" r="3.8"/><circle cx="1415" cy="192.7" r="3.8"/><circle cx="1440.6" cy="194.2" r="3.8"/><circle cx="1451.6" cy="192" r="3.8"/><circle cx="1468.2" cy="194.2" r="3.8"/><circle cx="1484.4" cy="195.6" r="3.8"/><circle cx="1495.2" cy="192.3" r="3.8"/><circle cx="1511.3" cy="193.7" r="3.8"/><circle cx="1527.8" cy="191.3" r="3.8"/><circle cx="1539.3" cy="187" r="3.8"/><circle cx="1547.2" cy="191.3" r="3.8"/><circle cx="1554.5" cy="183.7" r="3.8"/><circle cx="1559.1" cy="187.6" r="3.8"/><circle cx="1564.6" cy="182.2" r="3.8"/><circle cx="1568.5" cy="186.3" r="3.8"/><circle cx="1571.4" cy="188" r="3.8"/><circle cx="1301.5" cy="129.2" r="3.8"/></g>
<text x="1271.7" y="150.9" text-anchor="end" font-size="12" textLength="80.4" lengthAdjust="spacingAndGlyphs">18 / worker (3)</text>
<g fill="#e69f00"><circle cx="1161.7" cy="235.4" r="3.8"/><circle cx="1163.8" cy="238" r="3.8"/><circle cx="1199.5" cy="239.7" r="3.8"/><circle cx="1201.9" cy="240.9" r="3.8"/><circle cx="1225.3" cy="234" r="3.8"/><circle cx="1239" cy="243.3" r="3.8"/><circle cx="1248.6" cy="241.2" r="3.8"/><circle cx="1265.9" cy="238.3" r="3.8"/><circle cx="1278.1" cy="237.6" r="3.8"/><circle cx="1283.1" cy="237.6" r="3.8"/><circle cx="1302.5" cy="230.4" r="3.8"/><circle cx="1320.8" cy="238.6" r="3.8"/><circle cx="1338.7" cy="234.7" r="3.8"/><circle cx="1350.2" cy="237.6" r="3.8"/><circle cx="1368" cy="236.9" r="3.8"/><circle cx="1382.8" cy="241.2" r="3.8"/><circle cx="1396.3" cy="235" r="3.8"/><circle cx="1411.5" cy="239.7" r="3.8"/><circle cx="1425.8" cy="242.2" r="3.8"/><circle cx="1440.6" cy="237.6" r="3.8"/><circle cx="1448.2" cy="237.9" r="3.8"/><circle cx="1465" cy="237.6" r="3.8"/><circle cx="1481.5" cy="232.6" r="3.8"/><circle cx="1494.5" cy="239" r="3.8"/><circle cx="1513.4" cy="236.4" r="3.8"/><circle cx="1524.6" cy="235.4" r="3.8"/><circle cx="1539" cy="239.5" r="3.8"/><circle cx="1545.8" cy="234.7" r="3.8"/><circle cx="1553.4" cy="235.4" r="3.8"/><circle cx="1559.1" cy="236.4" r="3.8"/><circle cx="1563.9" cy="239" r="3.8"/><circle cx="1569.2" cy="231.4" r="3.8"/><circle cx="1571.4" cy="232.3" r="3.8"/><circle cx="1301.5" cy="147.2" r="3.8"/></g>
<text x="1271.7" y="168.9" text-anchor="end" font-size="12" textLength="87.3" lengthAdjust="spacingAndGlyphs">18 / worker (12)</text>
<g fill="#f0e442"><circle cx="1151.3" cy="236.9" r="3.8"/><circle cx="1180.6" cy="235.4" r="3.8"/><circle cx="1188.2" cy="234.7" r="3.8"/><circle cx="1207.9" cy="233.3" r="3.8"/><circle cx="1215.6" cy="240" r="3.8"/><circle cx="1236.8" cy="236.9" r="3.8"/><circle cx="1242.9" cy="237.6" r="3.8"/><circle cx="1266.4" cy="234.3" r="3.8"/><circle cx="1274.5" cy="236.9" r="3.8"/><circle cx="1294.9" cy="239.3" r="3.8"/><circle cx="1307.8" cy="234" r="3.8"/><circle cx="1327.7" cy="234.4" r="3.8"/><circle cx="1352.1" cy="240.5" r="3.8"/><circle cx="1363.7" cy="239.3" r="3.8"/><circle cx="1381.3" cy="240.2" r="3.8"/><circle cx="1393.6" cy="235" r="3.8"/><circle cx="1406.8" cy="235.4" r="3.8"/><circle cx="1416.8" cy="236.4" r="3.8"/><circle cx="1439.1" cy="238" r="3.8"/><circle cx="1453.5" cy="234.7" r="3.8"/><circle cx="1460.4" cy="236.4" r="3.8"/><circle cx="1480.4" cy="231.8" r="3.8"/><circle cx="1497.6" cy="236.9" r="3.8"/><circle cx="1511.7" cy="240.9" r="3.8"/><circle cx="1527.8" cy="233" r="3.8"/><circle cx="1539" cy="235" r="3.8"/><circle cx="1547.2" cy="235.9" r="3.8"/><circle cx="1553.8" cy="236.4" r="3.8"/><circle cx="1560.1" cy="235.4" r="3.8"/><circle cx="1564.2" cy="233" r="3.8"/><circle cx="1568.5" cy="235.4" r="3.8"/><circle cx="1571.6" cy="233.6" r="3.8"/><circle cx="1301.5" cy="165.2" r="3.8"/></g>
<path d="M1129.5 75.2H1575V352.95H1129.5Z" fill="none" stroke="#000" stroke-width="1"/>
<text x="80.4" y="746.5" text-anchor="end" font-size="12">0</text>
<text x="80.4" y="718.7" text-anchor="end" font-size="12">2000</text>
<text x="80.4" y="690.9" text-anchor="end" font-size="12">4000</text>
<text x="80.4" y="663.1" text-anchor="end" font-size="12">6000</text>
<text x="80.4" y="635.3" text-anchor="end" font-size="12">8000</text>
<text x="80.4" y="607.5" text-anchor="end" font-size="12">10000</text>
<text x="80.4" y="579.7" text-anchor="end" font-size="12">12000</text>
<text x="80.4" y="551.9" text-anchor="end" font-size="12">14000</text>
<text x="80.4" y="524.1" text-anchor="end" font-size="12">16000</text>
<text x="80.4" y="496.3" text-anchor="end" font-size="12">18000</text>
<text x="80.4" y="468.5" text-anchor="end" font-size="12">20000</text>
<text x="100.4" y="764.6" text-anchor="middle" font-size="12" textLength="28.9" lengthAdjust="spacingAndGlyphs">0.001</text>
<text x="181.92" y="764.6" text-anchor="middle" font-size="12" textLength="22.5" lengthAdjust="spacingAndGlyphs">0.01</text>
<text x="263.44" y="764.6" text-anchor="middle" font-size="12" textLength="15.8" lengthAdjust="spacingAndGlyphs">0.1</text>
<text x="344.96" y="764.6" text-anchor="middle" font-size="12" textLength="5" lengthAdjust="spacingAndGlyphs">1</text>
<text x="426.48" y="764.6" text-anchor="middle" font-size="12" textLength="12.6" lengthAdjust="spacingAndGlyphs">10</text>
<text x="508" y="764.6" text-anchor="middle" font-size="12" textLength="19.4" lengthAdjust="spacingAndGlyphs">100</text>
<path d="M89.4 464.5H508V742.5H89.4ZM89.4 742.5h9M508 742.5h-9M89.4 714.7h9M508 714.7h-9M89.4 686.9h9M508 686.9h-9M89.4 659.1h9M508 659.1h-9M89.4 631.3h9M508 631.3h-9M89.4 603.5h9M508 603.5h-9M89.4 575.7h9M508 575.7h-9M89.4 547.9h9M508 547.9h-9M89.4 520.1h9M508 520.1h-9M89.4 492.3h9M508 492.3h-9M89.4 464.5h9M508 464.5h-9M92.5 742.5v-4.5M92.5 464.5v4.5M96.67 742.5v-4.5M96.67 464.5v4.5M100.4 742.5v-9M100.4 464.5v9M124.94 742.5v-4.5M124.94 464.5v4.5M139.29 742.5v-4.5M139.29 464.5v4.5M149.48 742.5v-4.5M149.48 464.5v4.5M157.38 742.5v-4.5M157.38 464.5v4.5M163.83 742.5v-4.5M163.83 464.5v4.5M169.29 742.5v-4.5M169.29 464.5v4.5M174.02 742.5v-4.5M174.02 464.5v4.5M178.19 742.5v-4.5M178.19 464.5v4.5M181.92 742.5v-9M181.92 464.5v9M206.46 742.5v-4.5M206.46 464.5v4.5M220.81 742.5v-4.5M220.81 464.5v4.5M231 742.5v-4.5M231 464.5v4.5M238.9 742.5v-4.5M238.9 464.5v4.5M245.35 742.5v-4.5M245.35 464.5v4.5M250.81 742.5v-4.5M250.81 464.5v4.5M255.54 742.5v-4.5M255.54 464.5v4.5M259.71 742.5v-4.5M259.71 464.5v4.5M263.44 742.5v-9M263.44 464.5v9M287.98 742.5v-4.5M287.98 464.5v4.5M302.33 742.5v-4.5M302.33 464.5v4.5M312.52 742.5v-4.5M312.52 464.5v4.5M320.42 742.5v-4.5M320.42 464.5v4.5M326.87 742.5v-4.5M326.87 464.5v4.5M332.33 742.5v-4.5M332.33 464.5v4.5M337.06 742.5v-4.5M337.06 464.5v4.5M341.23 742.5v-4.5M341.23 464.5v4.5M344.96 742.5v-9M344.96 464.5v9M369.5 742.5v-4.5M369.5 464.5v4.5M383.85 742.5v-4.5M383.85 464.5v4.5M394.04 742.5v-4.5M394.04 464.5v4.5M401.94 742.5v-4.5M401.94 464.5v4.5M408.39 742.5v-4.5M408.39 464.5v4.5M413.85 742.5v-4.5M413.85 464.5v4.5M418.58 742.5v-4.5M418.58 464.5v4.5M422.75 742.5v-4.5M422.75 464.5v4.5M426.48 742.5v-9M426.48 464.5v9M451.02 742.5v-4.5M451.02 464.5v4.5M465.37 742.5v-4.5M465.37 464.5v4.5M475.56 742.5v-4.5M475.56 464.5v4.5M483.46 742.5v-4.5M483.46 464.5v4.5M489.91 742.5v-4.5M489.91 464.5v4.5M495.37 742.5v-4.5M495.37 464.5v4.5M500.1 742.5v-4.5M500.1 464.5v4.5M504.27 742.5v-4.5M504.27 464.5v4.5M508 742.5v-9M508 464.5v9" fill="none" stroke="#000" stroke-width="1"/>
<text x="298.7" y="441.2" text-anchor="middle" font-size="12" font-weight="bold" textLength="168.75" lengthAdjust="spacingAndGlyphs">uniform / indexscan / eic=16</text>
<text x="298.7" y="791.2" text-anchor="middle" font-size="12" textLength="55" lengthAdjust="spacingAndGlyphs">selectivity</text>
<text transform="translate(18.6 603.5) rotate(-90)" text-anchor="middle" font-size="12" textLength="69.5" lengthAdjust="spacingAndGlyphs">timing (cold)</text>
<text x="231.6" y="486.2" text-anchor="end" font-size="12" textLength="12.25" lengthAdjust="spacingAndGlyphs">17</text>
<g fill="#9400d3"><circle cx="100.8" cy="742.5" r="3.8"/><circle cx="159.25" cy="742.2" r="3.8"/><circle cx="180.6" cy="741.9" r="3.8"/><circle cx="191" cy="741.9" r="3.8"/><circle cx="192" cy="742.2" r="3.8"/><circle cx="203.9" cy="741.5" r="3.8"/><circle cx="218.1" cy="741.1" r="3.8"/><circle cx="232.8" cy="740.1" r="3.8"/><circle cx="247.5" cy="738.7" r="3.8"/><circle cx="261.4" cy="736.9" r="3.8"/><circle cx="275.4" cy="734.3" r="3.8"/><circle cx="289.9" cy="730.5" r="3.8"/><circle cx="303.8" cy="724.3" r="3.8"/><circle cx="318.7" cy="715.6" r="3.8"/><circle cx="332.8" cy="703.3" r="3.8"/><circle cx="346.9" cy="685.1" r="3.8"/><circle cx="361.5" cy="659" r="3.8"/><circle cx="376" cy="626" r="3.8"/><circle cx="390.1" cy="586.1" r="3.8"/><circle cx="404.75" cy="557" r="3.8"/><circle cx="419" cy="550.1" r="3.8"/><circle cx="433.5" cy="544.1" r="3.8"/><circle cx="447.8" cy="537.1" r="3.8"/><circle cx="462" cy="530.8" r="3.8"/><circle cx="473" cy="521.8" r="3.8"/><circle cx="481.5" cy="513.85" r="3.8"/><circle cx="488.4" cy="507.1" r="3.8"/><circle cx="494" cy="499.1" r="3.8"/><circle cx="498.8" cy="490.3" r="3.8"/><circle cx="503.3" cy="480.85" r="3.8"/><circle cx="507.2" cy="473.8" r="3.8"/><circle cx="419" cy="551.2" r="3.8"/><circle cx="447.8" cy="540.25" r="3.8"/><circle cx="481.5" cy="515.5" r="3.8"/><circle cx="498.8" cy="491.8" r="3.8"/><circle cx="507.5" cy="475" r="3.8"/><circle cx="261.4" cy="482.5" r="3.8"/></g>
<text x="231.6" y="504.2" text-anchor="end" font-size="12" textLength="48" lengthAdjust="spacingAndGlyphs">18 / sync</text>
<g fill="#009e73"><circle cx="104" cy="742.5" r="3.8"/><circle cx="126.9" cy="742.5" r="3.8"/><circle cx="165.5" cy="742.2" r="3.8"/><circle cx="174.4" cy="742" r="3.8"/><circle cx="192.2" cy="741.2" r="3.8"/><circle cx="204.1" cy="740.5" r="3.8"/><circle cx="218.3" cy="740.1" r="3.8"/><circle cx="233" cy="739.1" r="3.8"/><circle cx="247.7" cy="737.7" r="3.8"/><circle cx="261.6" cy="735.9" r="3.8"/><circle cx="275.6" cy="733.3" r="3.8"/><circle cx="290.1" cy="729.5" r="3.8"/><circle cx="304" cy="723.3" r="3.8"/><circle cx="318.9" cy="714.6" r="3.8"/><circle cx="333" cy="702.3" r="3.8"/><circle cx="347.1" cy="684.1" r="3.8"/><circle cx="361.7" cy="658" r="3.8"/><circle cx="376.2" cy="625" r="3.8"/><circle cx="390.3" cy="585.1" r="3.8"/><circle cx="404.95" cy="556" r="3.8"/><circle cx="419.2" cy="549.1" r="3.8"/><circle cx="433.7" cy="543.1" r="3.8"/><circle cx="448" cy="536.1" r="3.8"/><circle cx="462.2" cy="529.8" r="3.8"/><circle cx="473.2" cy="520.8" r="3.8"/><circle cx="481.7" cy="512.85" r="3.8"/><circle cx="488.6" cy="506.1" r="3.8"/><circle cx="494.2" cy="498.1" r="3.8"/><circle cx="499" cy="489.3" r="3.8"/><circle cx="503.5" cy="479.85" r="3.8"/><circle cx="507.4" cy="472.8" r="3.8"/><circle cx="261.4" cy="500.5" r="3.8"/></g>
<text x="231.6" y="522.2" text-anchor="end" font-size="12" textLength="68.75" lengthAdjust="spacingAndGlyphs">18 / io_uring</text>
<g fill="#56b4e9"><circle cx="143.8" cy="742.5" r="3.8"/><circle cx="191.2" cy="741.5" r="3.8"/><circle cx="191.6" cy="741.2" r="3.8"/><circle cx="203.5" cy="740.5" r="3.8"/><circle cx="217.7" cy="740.1" r="3.8"/><circle cx="232.4" cy="739.1" r="3.8"/><circle cx="247.1" cy="737.7" r="3.8"/><circle cx="261" cy="735.9" r="3.8"/><circle cx="275" cy="733.3" r="3.8"/><circle cx="289.5" cy="729.5" r="3.8"/><circle cx="303.4" cy="723.3" r="3.8"/><circle cx="318.3" cy="714.6" r="3.8"/><circle cx="332.4" cy="702.3" r="3.8"/><circle cx="346.5" cy="684.1" r="3.8"/><circle cx="361.1" cy="658" r="3.8"/><circle cx="375.6" cy="625" r="3.8"/><circle cx="389.7" cy="585.1" r="3.8"/><circle cx="404.35" cy="556" r="3.8"/><circle cx="418.6" cy="549.1" r="3.8"/><circle cx="433.1" cy="543.1" r="3.8"/><circle cx="447.4" cy="536.1" r="3.8"/><circle cx="461.6" cy="529.8" r="3.8"/><circle cx="472.6" cy="520.8" r="3.8"/><circle cx="481.1" cy="512.85" r="3.8"/><circle cx="488" cy="506.1" r="3.8"/><circle cx="493.6" cy="498.1" r="3.8"/><circle cx="498.4" cy="489.3" r="3.8"/><circle cx="502.9" cy="479.85" r="3.8"/><circle cx="506.8" cy="472.8" r="3.8"/><circle cx="462" cy="527.8" r="3.8"/><circle cx="480.7" cy="511.7" r="3.8"/><circle cx="487.6" cy="504.3" r="3.8"/><circle cx="503.3" cy="484.7" r="3.8"/><circle cx="261.4" cy="518.5" r="3.8"/></g>
<text x="231.6" y="540.2" text-anchor="end" font-size="12" textLength="80.4" lengthAdjust="spacingAndGlyphs">18 / worker (3)</text>
<g fill="#e69f00"><circle cx="91.2" cy="742.5" r="3.8"/><circle cx="124.9" cy="742.3" r="3.8"/><circle cx="140" cy="742.3" r="3.8"/><circle cx="147.6" cy="742.2" r="3.8"/><circle cx="216.8" cy="740.6" r="3.8"/><circle cx="191.8" cy="741.8" r="3.8"/><circle cx="203.7" cy="741.1" r="3.8"/><circle cx="217.9" cy="740.7" r="3.8"/><circle cx="232.6" cy="739.7" r="3.8"/><circle cx="247.3" cy="738.3" r="3.8"/><circle cx="261.2" cy="736.5" r="3.8"/><circle cx="275.2" cy="733.9" r="3.8"/><circle cx="289.7" cy="730.1" r="3.8"/><circle cx="303.6" cy="723.9" r="3.8"/><circle cx="318.5" cy="715.2" r="3.8"/><circle cx="332.6" cy="702.9" r="3.8"/><circle cx="346.7" cy="684.7" r="3.8"/><circle cx="361.3" cy="658.6" r="3.8"/><circle cx="375.8" cy="625.6" r="3.8"/><circle cx="389.9" cy="585.7" r="3.8"/><circle cx="404.55" cy="556.6" r="3.8"/><circle cx="418.8" cy="549.7" r="3.8"/><circle cx="433.3" cy="543.7" r="3.8"/><circle cx="447.6" cy="536.7" r="3.8"/><circle cx="461.8" cy="530.4" r="3.8"/><circle cx="472.8" cy="521.4" r="3.8"/><circle cx="481.3" cy="513.45" r="3.8"/><circle cx="488.2" cy="506.7" r="3.8"/><circle cx="493.8" cy="498.7" r="3.8"/><circle cx="498.6" cy="489.9" r="3.8"/><circle cx="503.1" cy="480.45" r="3.8"/><circle cx="507" cy="473.4" r="3.8"/><circle cx="447.8" cy="538" r="3.8"/><circle cx="503" cy="482.5" r="3.8"/><circle cx="505.8" cy="473.5" r="3.8"/><circle cx="261.4" cy="536.5" r="3.8"/></g>
<text x="231.6" y="558.2" text-anchor="end" font-size="12" textLength="87.3" lengthAdjust="spacingAndGlyphs">18 / worker (12)</text>
<g fill="#f0e442"><circle cx="93.9" cy="742.2" r="3.8"/><circle cx="96.7" cy="742.2" r="3.8"/><circle cx="119.1" cy="742.2" r="3.8"/><circle cx="137.2" cy="742.2" r="3.8"/><circle cx="150.7" cy="742" r="3.8"/><circle cx="163.4" cy="742" r="3.8"/><circle cx="176.8" cy="741.7" r="3.8"/><circle cx="192" cy="741.6" r="3.8"/><circle cx="203.9" cy="740.9" r="3.8"/><circle cx="218.1" cy="740.5" r="3.8"/><circle cx="232.8" cy="739.5" r="3.8"/><circle cx="247.5" cy="738.1" r="3.8"/><circle cx="261.4" cy="736.3" r="3.8"/><circle cx="275.4" cy="733.7" r="3.8"/><circle cx="289.9" cy="729.9" r="3.8"/><circle cx="303.8" cy="723.7" r="3.8"/><circle cx="318.7" cy="715" r="3.8"/><circle cx="332.8" cy="702.7" r="3.8"/><circle cx="346.9" cy="684.5" r="3.8"/><circle cx="361.5" cy="658.4" r="3.8"/><circle cx="376" cy="625.4" r="3.8"/><circle cx="390.1" cy="585.5" r="3.8"/><circle cx="404.75" cy="556.4" r="3.8"/><circle cx="419" cy="549.5" r="3.8"/><circle cx="433.5" cy="543.5" r="3.8"/><circle cx="447.8" cy="536.5" r="3.8"/><circle cx="462" cy="530.2" r="3.8"/><circle cx="473" cy="521.2" r="3.8"/><circle cx="481.5" cy="513.25" r="3.8"/><circle cx="488.4" cy="506.5" r="3.8"/><circle cx="494" cy="498.5" r="3.8"/><circle cx="498.8" cy="489.7" r="3.8"/><circle cx="503.3" cy="480.25" r="3.8"/><circle cx="507.2" cy="473.2" r="3.8"/><circle cx="261.4" cy="554.5" r="3.8"/></g>
<path d="M89.4 464.5H508V742.5H89.4Z" fill="none" stroke="#000" stroke-width="1"/>
<text x="587.5" y="746.5" text-anchor="end" font-size="12">0</text>
<text x="587.5" y="706.79" text-anchor="end" font-size="12">500</text>
<text x="587.5" y="667.07" text-anchor="end" font-size="12">1000</text>
<text x="587.5" y="627.36" text-anchor="end" font-size="12">1500</text>
<text x="587.5" y="587.64" text-anchor="end" font-size="12">2000</text>
<text x="587.5" y="547.93" text-anchor="end" font-size="12">2500</text>
<text x="587.5" y="508.21" text-anchor="end" font-size="12">3000</text>
<text x="587.5" y="468.5" text-anchor="end" font-size="12">3500</text>
<text x="608.1" y="764.6" text-anchor="middle" font-size="12" textLength="28.9" lengthAdjust="spacingAndGlyphs">0.001</text>
<text x="694.78" y="764.6" text-anchor="middle" font-size="12" textLength="22.5" lengthAdjust="spacingAndGlyphs">0.01</text>
<text x="781.46" y="764.6" text-anchor="middle" font-size="12" textLength="15.8" lengthAdjust="spacingAndGlyphs">0.1</text>
<text x="868.14" y="764.6" text-anchor="middle" font-size="12" textLength="5" lengthAdjust="spacingAndGlyphs">1</text>
<text x="954.82" y="764.6" text-anchor="middle" font-size="12" textLength="12.6" lengthAdjust="spacingAndGlyphs">10</text>
<text x="1041.5" y="764.6" text-anchor="middle" font-size="12" textLength="19.4" lengthAdjust="spacingAndGlyphs">100</text>
<path d="M596.5 464.5H1041.5V742.5H596.5ZM596.5 742.5h9M1041.5 742.5h-9M596.5 702.79h9M1041.5 702.79h-9M596.5 663.07h9M1041.5 663.07h-9M596.5 623.36h9M1041.5 623.36h-9M596.5 583.64h9M1041.5 583.64h-9M596.5 543.93h9M1041.5 543.93h-9M596.5 504.21h9M1041.5 504.21h-9M596.5 464.5h9M1041.5 464.5h-9M599.7 742.5v-4.5M599.7 464.5v4.5M604.13 742.5v-4.5M604.13 464.5v4.5M608.1 742.5v-9M608.1 464.5v9M634.19 742.5v-4.5M634.19 464.5v4.5M649.46 742.5v-4.5M649.46 464.5v4.5M660.29 742.5v-4.5M660.29 464.5v4.5M668.69 742.5v-4.5M668.69 464.5v4.5M675.55 742.5v-4.5M675.55 464.5v4.5M681.35 742.5v-4.5M681.35 464.5v4.5M686.38 742.5v-4.5M686.38 464.5v4.5M690.81 742.5v-4.5M690.81 464.5v4.5M694.78 742.5v-9M694.78 464.5v9M720.87 742.5v-4.5M720.87 464.5v4.5M736.14 742.5v-4.5M736.14 464.5v4.5M746.97 742.5v-4.5M746.97 464.5v4.5M755.37 742.5v-4.5M755.37 464.5v4.5M762.23 742.5v-4.5M762.23 464.5v4.5M768.03 742.5v-4.5M768.03 464.5v4.5M773.06 742.5v-4.5M773.06 464.5v4.5M777.49 742.5v-4.5M777.49 464.5v4.5M781.46 742.5v-9M781.46 464.5v9M807.55 742.5v-4.5M807.55 464.5v4.5M822.82 742.5v-4.5M822.82 464.5v4.5M833.65 742.5v-4.5M833.65 464.5v4.5M842.05 742.5v-4.5M842.05 464.5v4.5M848.91 742.5v-4.5M848.91 464.5v4.5M854.71 742.5v-4.5M854.71 464.5v4.5M859.74 742.5v-4.5M859.74 464.5v4.5M864.17 742.5v-4.5M864.17 464.5v4.5M868.14 742.5v-9M868.14 464.5v9M894.23 742.5v-4.5M894.23 464.5v4.5M909.5 742.5v-4.5M909.5 464.5v4.5M920.33 742.5v-4.5M920.33 464.5v4.5M928.73 742.5v-4.5M928.73 464.5v4.5M935.59 742.5v-4.5M935.59 464.5v4.5M941.39 742.5v-4.5M941.39 464.5v4.5M946.42 742.5v-4.5M946.42 464.5v4.5M950.85 742.5v-4.5M950.85 464.5v4.5M954.82 742.5v-9M954.82 464.5v9M980.91 742.5v-4.5M980.91 464.5v4.5M996.18 742.5v-4.5M996.18 464.5v4.5M1007.01 742.5v-4.5M1007.01 464.5v4.5M1015.41 742.5v-4.5M1015.41 464.5v4.5M1022.27 742.5v-4.5M1022.27 464.5v4.5M1028.07 742.5v-4.5M1028.07 464.5v4.5M1033.1 742.5v-4.5M1033.1 464.5v4.5M1037.53 742.5v-4.5M1037.53 464.5v4.5M1041.5 742.5v-9M1041.5 464.5v9" fill="none" stroke="#000" stroke-width="1"/>
<text x="819" y="441.2" text-anchor="middle" font-size="12" font-weight="bold" textLength="178.75" lengthAdjust="spacingAndGlyphs">uniform / bitmapscan / eic=16</text>
<text x="819" y="791.2" text-anchor="middle" font-size="12" textLength="55" lengthAdjust="spacingAndGlyphs">selectivity</text>
<text x="738.7" y="486.2" text-anchor="end" font-size="12" textLength="12.25" lengthAdjust="spacingAndGlyphs">17</text>
<g fill="#9400d3"><circle cx="611.9" cy="742.3" r="3.8"/><circle cx="635.3" cy="742.3" r="3.8"/><circle cx="658" cy="742.3" r="3.8"/><circle cx="687.8" cy="742.1" r="3.8"/><circle cx="839.9" cy="722" r="3.8"/><circle cx="855.1" cy="711.5" r="3.8"/><circle cx="870.3" cy="696.6" r="3.8"/><circle cx="885.7" cy="671.2" r="3.8"/><circle cx="900.9" cy="627.1" r="3.8"/><circle cx="916.2" cy="583" r="3.8"/><circle cx="931.4" cy="582" r="3.8"/><circle cx="946.8" cy="562" r="3.8"/><circle cx="962" cy="532.6" r="3.8"/><circle cx="977.4" cy="518" r="3.8"/><circle cx="992.4" cy="510.6" r="3.8"/><circle cx="1004.2" cy="504.6" r="3.8"/><circle cx="1013.2" cy="508.4" r="3.8"/><circle cx="1020.4" cy="507" r="3.8"/><circle cx="1026.4" cy="505.6" r="3.8"/><circle cx="1031.6" cy="502" r="3.8"/><circle cx="1036.4" cy="509.4" r="3.8"/><circle cx="1040.4" cy="500.4" r="3.8"/><circle cx="768.5" cy="482.5" r="3.8"/></g>
<text x="738.7" y="504.2" text-anchor="end" font-size="12" textLength="48" lengthAdjust="spacingAndGlyphs">18 / sync</text>
<g fill="#009e73"><circle cx="639.8" cy="742.3" r="3.8"/><circle cx="660" cy="742.3" r="3.8"/><circle cx="779.9" cy="738.2" r="3.8"/><circle cx="795.2" cy="735.1" r="3.8"/><circle cx="810" cy="732.9" r="3.8"/><circle cx="824.5" cy="728.1" r="3.8"/><circle cx="839.9" cy="722.8" r="3.8"/><circle cx="855.1" cy="713.6" r="3.8"/><circle cx="870.3" cy="701" r="3.8"/><circle cx="885.7" cy="685.6" r="3.8"/><circle cx="900.9" cy="671.6" r="3.8"/><circle cx="916.3" cy="645.3" r="3.8"/><circle cx="931.6" cy="627.1" r="3.8"/><circle cx="946.8" cy="611.6" r="3.8"/><circle cx="962" cy="602.4" r="3.8"/><circle cx="977.4" cy="592.4" r="3.8"/><circle cx="992.4" cy="587" r="3.8"/><circle cx="1004.2" cy="587.4" r="3.8"/><circle cx="1013.2" cy="584.6" r="3.8"/><circle cx="1020.4" cy="583" r="3.8"/><circle cx="1026.4" cy="581" r="3.8"/><circle cx="1031.6" cy="579" r="3.8"/><circle cx="1036.4" cy="580.6" r="3.8"/><circle cx="1040.4" cy="576.6" r="3.8"/><circle cx="768.5" cy="500.5" r="3.8"/></g>
<text x="738.7" y="522.2" text-anchor="end" font-size="12" textLength="68.75" lengthAdjust="spacingAndGlyphs">18 / io_uring</text>
<g fill="#56b4e9"><circle cx="604.1" cy="742.3" r="3.8"/><circle cx="657.3" cy="742.3" r="3.8"/><circle cx="673.1" cy="742.3" r="3.8"/><circle cx="693.7" cy="742.2" r="3.8"/><circle cx="732.3" cy="741.1" r="3.8"/><circle cx="763" cy="739.4" r="3.8"/><circle cx="793" cy="736.5" r="3.8"/><circle cx="808.3" cy="734.3" r="3.8"/><circle cx="809.6" cy="733.3" r="3.8"/><circle cx="824.5" cy="729" r="3.8"/><circle cx="839.9" cy="723.7" r="3.8"/><circle cx="855.1" cy="715" r="3.8"/><circle cx="870.3" cy="704.5" r="3.8"/><circle cx="885.7" cy="690.5" r="3.8"/><circle cx="900.9" cy="675.1" r="3.8"/><circle cx="916.3" cy="662.5" r="3.8"/><circle cx="931.6" cy="653.7" r="3.8"/><circle cx="946.8" cy="640.3" r="3.8"/><circle cx="962" cy="642" r="3.8"/><circle cx="977.2" cy="647.3" r="3.8"/><circle cx="992.4" cy="630.1" r="3.8"/><circle cx="1004.3" cy="630.3" r="3.8"/><circle cx="1013.1" cy="624.2" r="3.8"/><circle cx="1020.3" cy="623.6" r="3.8"/><circle cx="1026.4" cy="624.2" r="3.8"/><circle cx="1031.8" cy="619.9" r="3.8"/><circle cx="1036.5" cy="621.2" r="3.8"/><circle cx="1040.6" cy="617.5" r="3.8"/><circle cx="768.5" cy="518.5" r="3.8"/></g>
<text x="738.7" y="540.2" text-anchor="end" font-size="12" textLength="80.4" lengthAdjust="spacingAndGlyphs">18 / worker (3)</text>
<g fill="#e69f00"><circle cx="606.2" cy="742.3" r="3.8"/><circle cx="633.25" cy="742.3" r="3.8"/><circle cx="646.5" cy="742.3" r="3.8"/><circle cx="674.5" cy="742.1" r="3.8"/><circle cx="692.4" cy="740.9" r="3.8"/><circle cx="702" cy="740.2" r="3.8"/><circle cx="716.8" cy="739.2" r="3.8"/><circle cx="732.9" cy="738.1" r="3.8"/><circle cx="748.3" cy="736.1" r="3.8"/><circle cx="764.3" cy="733.7" r="3.8"/><circle cx="779.3" cy="730.6" r="3.8"/><circle cx="794.1" cy="725.1" r="3.8"/><circle cx="809.7" cy="716.4" r="3.8"/><circle cx="824.5" cy="705.3" r="3.8"/><circle cx="839.9" cy="685.6" r="3.8"/><circle cx="855.1" cy="662" r="3.8"/><circle cx="870.3" cy="631" r="3.8"/><circle cx="885.6" cy="591.6" r="3.8"/><circle cx="900.8" cy="547.6" r="3.8"/><circle cx="916.2" cy="512.4" r="3.8"/><circle cx="931.4" cy="534.6" r="3.8"/><circle cx="946.8" cy="652.5" r="3.8"/><circle cx="962" cy="659.5" r="3.8"/><circle cx="977.2" cy="663" r="3.8"/><circle cx="992.4" cy="665.5" r="3.8"/><circle cx="1004.3" cy="661.6" r="3.8"/><circle cx="1013.1" cy="660.7" r="3.8"/><circle cx="1020.3" cy="662" r="3.8"/><circle cx="1026.4" cy="660.7" r="3.8"/><circle cx="1031.8" cy="653.7" r="3.8"/><circle cx="1036.5" cy="654" r="3.8"/><circle cx="1040.6" cy="652.9" r="3.8"/><circle cx="768.5" cy="536.5" r="3.8"/></g>
<text x="738.7" y="558.2" text-anchor="end" font-size="12" textLength="87.3" lengthAdjust="spacingAndGlyphs">18 / worker (12)</text>
<g fill="#f0e442"><circle cx="609.9" cy="742.3" r="3.8"/><circle cx="629.8" cy="742.3" r="3.8"/><circle cx="648.4" cy="742.3" r="3.8"/><circle cx="662.4" cy="742" r="3.8"/><circle cx="676.6" cy="742" r="3.8"/><circle cx="691.3" cy="741.7" r="3.8"/><circle cx="705.4" cy="741.6" r="3.8"/><circle cx="719.9" cy="741.1" r="3.8"/><circle cx="735" cy="740.6" r="3.8"/><circle cx="748.75" cy="739.9" r="3.8"/><circle cx="764.3" cy="739.2" r="3.8"/><circle cx="779" cy="737.9" r="3.8"/><circle cx="794.1" cy="736.5" r="3.8"/><circle cx="809.7" cy="734.5" r="3.8"/><circle cx="824.5" cy="731.2" r="3.8"/><circle cx="839.9" cy="725.1" r="3.8"/><circle cx="855.1" cy="717.9" r="3.8"/><circle cx="870.3" cy="706.6" r="3.8"/><circle cx="885.7" cy="693.6" r="3.8"/><circle cx="900.9" cy="678.75" r="3.8"/><circle cx="916.3" cy="667.4" r="3.8"/><circle cx="931.6" cy="662.8" r="3.8"/><circle cx="946.8" cy="658.6" r="3.8"/><circle cx="962" cy="658.5" r="3.8"/><circle cx="977.2" cy="662" r="3.8"/><circle cx="992.4" cy="664.8" r="3.8"/><circle cx="1004.3" cy="664.8" r="3.8"/><circle cx="1013.1" cy="662.1" r="3.8"/><circle cx="1020.3" cy="659.5" r="3.8"/><circle cx="1026.4" cy="656" r="3.8"/><circle cx="1031.8" cy="659" r="3.8"/><circle cx="1036.5" cy="652.9" r="3.8"/><circle cx="1040.6" cy="656.9" r="3.8"/><circle cx="768.5" cy="554.5" r="3.8"/></g>
<path d="M596.5 464.5H1041.5V742.5H596.5Z" fill="none" stroke="#000" stroke-width="1"/>
<text x="1120.5" y="746.5" text-anchor="end" font-size="12">0</text>
<text x="1120.5" y="718.7" text-anchor="end" font-size="12">200</text>
<text x="1120.5" y="690.9" text-anchor="end" font-size="12">400</text>
<text x="1120.5" y="663.1" text-anchor="end" font-size="12">600</text>
<text x="1120.5" y="635.3" text-anchor="end" font-size="12">800</text>
<text x="1120.5" y="607.5" text-anchor="end" font-size="12">1000</text>
<text x="1120.5" y="579.7" text-anchor="end" font-size="12">1200</text>
<text x="1120.5" y="551.9" text-anchor="end" font-size="12">1400</text>
<text x="1120.5" y="524.1" text-anchor="end" font-size="12">1600</text>
<text x="1120.5" y="496.3" text-anchor="end" font-size="12">1800</text>
<text x="1120.5" y="468.5" text-anchor="end" font-size="12">2000</text>
<text x="1141.4" y="764.6" text-anchor="middle" font-size="12" textLength="28.9" lengthAdjust="spacingAndGlyphs">0.001</text>
<text x="1228.12" y="764.6" text-anchor="middle" font-size="12" textLength="22.5" lengthAdjust="spacingAndGlyphs">0.01</text>
<text x="1314.84" y="764.6" text-anchor="middle" font-size="12" textLength="15.8" lengthAdjust="spacingAndGlyphs">0.1</text>
<text x="1401.56" y="764.6" text-anchor="middle" font-size="12" textLength="5" lengthAdjust="spacingAndGlyphs">1</text>
<text x="1488.28" y="764.6" text-anchor="middle" font-size="12" textLength="12.6" lengthAdjust="spacingAndGlyphs">10</text>
<text x="1575" y="764.6" text-anchor="middle" font-size="12" textLength="19.4" lengthAdjust="spacingAndGlyphs">100</text>
<path d="M1129.5 464.5H1575V742.5H1129.5ZM1129.5 742.5h9M1575 742.5h-9M1129.5 714.7h9M1575 714.7h-9M1129.5 686.9h9M1575 686.9h-9M1129.5 659.1h9M1575 659.1h-9M1129.5 631.3h9M1575 631.3h-9M1129.5 603.5h9M1575 603.5h-9M1129.5 575.7h9M1575 575.7h-9M1129.5 547.9h9M1575 547.9h-9M1129.5 520.1h9M1575 520.1h-9M1129.5 492.3h9M1575 492.3h-9M1129.5 464.5h9M1575 464.5h-9M1133 742.5v-4.5M1133 464.5v4.5M1137.43 742.5v-4.5M1137.43 464.5v4.5M1141.4 742.5v-9M1141.4 464.5v9M1167.51 742.5v-4.5M1167.51 464.5v4.5M1182.78 742.5v-4.5M1182.78 464.5v4.5M1193.61 742.5v-4.5M1193.61 464.5v4.5M1202.01 742.5v-4.5M1202.01 464.5v4.5M1208.88 742.5v-4.5M1208.88 464.5v4.5M1214.69 742.5v-4.5M1214.69 464.5v4.5M1219.72 742.5v-4.5M1219.72 464.5v4.5M1224.15 742.5v-4.5M1224.15 464.5v4.5M1228.12 742.5v-9M1228.12 464.5v9M1254.23 742.5v-4.5M1254.23 464.5v4.5M1269.5 742.5v-4.5M1269.5 464.5v4.5M1280.33 742.5v-4.5M1280.33 464.5v4.5M1288.73 742.5v-4.5M1288.73 464.5v4.5M1295.6 742.5v-4.5M1295.6 464.5v4.5M1301.41 742.5v-4.5M1301.41 464.5v4.5M1306.44 742.5v-4.5M1306.44 464.5v4.5M1310.87 742.5v-4.5M1310.87 464.5v4.5M1314.84 742.5v-9M1314.84 464.5v9M1340.95 742.5v-4.5M1340.95 464.5v4.5M1356.22 742.5v-4.5M1356.22 464.5v4.5M1367.05 742.5v-4.5M1367.05 464.5v4.5M1375.45 742.5v-4.5M1375.45 464.5v4.5M1382.32 742.5v-4.5M1382.32 464.5v4.5M1388.13 742.5v-4.5M1388.13 464.5v4.5M1393.16 742.5v-4.5M1393.16 464.5v4.5M1397.59 742.5v-4.5M1397.59 464.5v4.5M1401.56 742.5v-9M1401.56 464.5v9M1427.67 742.5v-4.5M1427.67 464.5v4.5M1442.94 742.5v-4.5M1442.94 464.5v4.5M1453.77 742.5v-4.5M1453.77 464.5v4.5M1462.17 742.5v-4.5M1462.17 464.5v4.5M1469.04 742.5v-4.5M1469.04 464.5v4.5M1474.85 742.5v-4.5M1474.85 464.5v4.5M1479.88 742.5v-4.5M1479.88 464.5v4.5M1484.31 742.5v-4.5M1484.31 464.5v4.5M1488.28 742.5v-9M1488.28 464.5v9M1514.39 742.5v-4.5M1514.39 464.5v4.5M1529.66 742.5v-4.5M1529.66 464.5v4.5M1540.49 742.5v-4.5M1540.49 464.5v4.5M1548.89 742.5v-4.5M1548.89 464.5v4.5M1555.76 742.5v-4.5M1555.76 464.5v4.5M1561.57 742.5v-4.5M1561.57 464.5v4.5M1566.6 742.5v-4.5M1566.6 464.5v4.5M1571.03 742.5v-4.5M1571.03 464.5v4.5M1575 742.5v-9M1575 464.5v9" fill="none" stroke="#000" stroke-width="1"/>
<text x="1352.25" y="441.2" text-anchor="middle" font-size="12" font-weight="bold" textLength="156.6" lengthAdjust="spacingAndGlyphs">uniform / seqscan / eic=16</text>
<text x="1352.25" y="791.2" text-anchor="middle" font-size="12" textLength="55" lengthAdjust="spacingAndGlyphs">selectivity</text>
<text x="1271.7" y="486.2" text-anchor="end" font-size="12" textLength="12.25" lengthAdjust="spacingAndGlyphs">17</text>
<g fill="#9400d3"><circle cx="1134.8" cy="503.8" r="3.8"/><circle cx="1166.7" cy="506.7" r="3.8"/><circle cx="1181.3" cy="499.5" r="3.8"/><circle cx="1192.1" cy="500.2" r="3.8"/><circle cx="1210.5" cy="503.1" r="3.8"/><circle cx="1227.8" cy="499.5" r="3.8"/><circle cx="1237.1" cy="491.3" r="3.8"/><circle cx="1251.5" cy="501.6" r="3.8"/><circle cx="1267.3" cy="500.9" r="3.8"/><circle cx="1282.8" cy="507.4" r="3.8"/><circle cx="1297.2" cy="505.9" r="3.8"/><circle cx="1313" cy="506.4" r="3.8"/><circle cx="1328" cy="504.1" r="3.8"/><circle cx="1342.8" cy="497" r="3.8"/><circle cx="1358.2" cy="495.2" r="3.8"/><circle cx="1373.4" cy="496.9" r="3.8"/><circle cx="1388.5" cy="491.6" r="3.8"/><circle cx="1403.8" cy="510.2" r="3.8"/><circle cx="1419" cy="504.8" r="3.8"/><circle cx="1434.4" cy="496.9" r="3.8"/><circle cx="1449.6" cy="504.9" r="3.8"/><circle cx="1464.7" cy="499.2" r="3.8"/><circle cx="1480.1" cy="494" r="3.8"/><circle cx="1495.2" cy="495.6" r="3.8"/><circle cx="1510.6" cy="498.7" r="3.8"/><circle cx="1525.8" cy="502.8" r="3.8"/><circle cx="1537.6" cy="502.3" r="3.8"/><circle cx="1546.5" cy="498.3" r="3.8"/><circle cx="1553.7" cy="493" r="3.8"/><circle cx="1559.9" cy="502.8" r="3.8"/><circle cx="1565.2" cy="503.1" r="3.8"/><circle cx="1569.6" cy="493.7" r="3.8"/><circle cx="1573.5" cy="495.2" r="3.8"/><circle cx="1301.5" cy="482.5" r="3.8"/></g>
<text x="1271.7" y="504.2" text-anchor="end" font-size="12" textLength="48" lengthAdjust="spacingAndGlyphs">18 / sync</text>
<g fill="#009e73"><circle cx="1142.2" cy="496.2" r="3.8"/><circle cx="1166.7" cy="508.1" r="3.8"/><circle cx="1184.7" cy="504.5" r="3.8"/><circle cx="1195" cy="503.3" r="3.8"/><circle cx="1208.4" cy="505.2" r="3.8"/><circle cx="1223.75" cy="496.9" r="3.8"/><circle cx="1236.8" cy="504.9" r="3.8"/><circle cx="1252.2" cy="504.2" r="3.8"/><circle cx="1267" cy="495.9" r="3.8"/><circle cx="1281.4" cy="500.5" r="3.8"/><circle cx="1297.2" cy="504.5" r="3.8"/><circle cx="1311.9" cy="500.6" r="3.8"/><circle cx="1328" cy="496.6" r="3.8"/><circle cx="1343.2" cy="498.5" r="3.8"/><circle cx="1358.2" cy="506.4" r="3.8"/><circle cx="1373.4" cy="503.5" r="3.8"/><circle cx="1388.5" cy="502.8" r="3.8"/><circle cx="1403.8" cy="502.6" r="3.8"/><circle cx="1419" cy="495.4" r="3.8"/><circle cx="1434.4" cy="489.7" r="3.8"/><circle cx="1449.6" cy="497.3" r="3.8"/><circle cx="1464.7" cy="495.4" r="3.8"/><circle cx="1480.1" cy="505.5" r="3.8"/><circle cx="1495.2" cy="496.3" r="3.8"/><circle cx="1510.6" cy="500.2" r="3.8"/><circle cx="1525.8" cy="497.6" r="3.8"/><circle cx="1537.6" cy="494.9" r="3.8"/><circle cx="1546.5" cy="493.7" r="3.8"/><circle cx="1553.7" cy="495.2" r="3.8"/><circle cx="1559.9" cy="498.7" r="3.8"/><circle cx="1565.2" cy="485.1" r="3.8"/><circle cx="1569.6" cy="488.7" r="3.8"/><circle cx="1573.5" cy="494.1" r="3.8"/><circle cx="1301.5" cy="500.5" r="3.8"/></g>
<text x="1271.7" y="522.2" text-anchor="end" font-size="12" textLength="68.75" lengthAdjust="spacingAndGlyphs">18 / io_uring</text>
<g fill="#56b4e9"><circle cx="1138.7" cy="582" r="3.8"/><circle cx="1165.2" cy="584.2" r="3.8"/><circle cx="1179" cy="584.75" r="3.8"/><circle cx="1192.1" cy="581.3" r="3.8"/><circle cx="1207.9" cy="584.75" r="3.8"/><circle cx="1226.8" cy="584.75" r="3.8"/><circle cx="1240" cy="581.2" r="3.8"/><circle cx="1252.2" cy="578" r="3.8"/><circle cx="1266.9" cy="582" r="3.8"/><circle cx="1281.7" cy="586.3" r="3.8"/><circle cx="1298.2" cy="583.5" r="3.8"/><circle cx="1313.3" cy="582" r="3.8"/><circle cx="1328" cy="576.6" r="3.8"/><circle cx="1342.5" cy="581.6" r="3.8"/><circle cx="1358.2" cy="582.6" r="3.8"/><circle cx="1373.4" cy="576.1" r="3.8"/><circle cx="1388.5" cy="585.6" r="3.8"/><circle cx="1403.8" cy="582.6" r="3.8"/><circle cx="1419" cy="585.2" r="3.8"/><circle cx="1434.4" cy="579.1" r="3.8"/><circle cx="1449.6" cy="579.1" r="3.8"/><circle cx="1464.7" cy="580.4" r="3.8"/><circle cx="1480.1" cy="577.6" r="3.8"/><circle cx="1495.2" cy="581.2" r="3.8"/><circle cx="1510.6" cy="572" r="3.8"/><circle cx="1525.8" cy="570.4" r="3.8"/><circle cx="1537.6" cy="574" r="3.8"/><circle cx="1546.5" cy="570.1" r="3.8"/><circle cx="1553.7" cy="578" r="3.8"/><circle cx="1559.9" cy="574.4" r="3.8"/><circle cx="1565.2" cy="576.3" r="3.8"/><circle cx="1569.6" cy="578" r="3.8"/><circle cx="1573.5" cy="576.3" r="3.8"/><circle cx="1301.5" cy="518.5" r="3.8"/></g>
<text x="1271.7" y="540.2" text-anchor="end" font-size="12" textLength="80.4" lengthAdjust="spacingAndGlyphs">18 / worker (3)</text>
<g fill="#e69f00"><circle cx="1140.5" cy="625.7" r="3.8"/><circle cx="1167.8" cy="619.7" r="3.8"/><circle cx="1180.1" cy="624.4" r="3.8"/><circle cx="1197.3" cy="625.4" r="3.8"/><circle cx="1207.4" cy="631.2" r="3.8"/><circle cx="1224.9" cy="622.3" r="3.8"/><circle cx="1238.6" cy="626.9" r="3.8"/><circle cx="1251.5" cy="624.7" r="3.8"/><circle cx="1267" cy="621.1" r="3.8"/><circle cx="1281.4" cy="629.3" r="3.8"/><circle cx="1297.2" cy="624" r="3.8"/><circle cx="1312.6" cy="630.5" r="3.8"/><circle cx="1327.7" cy="624.7" r="3.8"/><circle cx="1342.9" cy="624" r="3.8"/><circle cx="1358.2" cy="628.3" r="3.8"/><circle cx="1373.4" cy="629" r="3.8"/><circle cx="1388.5" cy="626.4" r="3.8"/><circle cx="1403.8" cy="625.9" r="3.8"/><circle cx="1419" cy="631.2" r="3.8"/><circle cx="1434.4" cy="623.6" r="3.8"/><circle cx="1449.6" cy="626.2" r="3.8"/><circle cx="1464.7" cy="627.2" r="3.8"/><circle cx="1480.1" cy="626.9" r="3.8"/><circle cx="1495.2" cy="624.7" r="3.8"/><circle cx="1510.6" cy="626.4" r="3.8"/><circle cx="1525.8" cy="625.9" r="3.8"/><circle cx="1537.6" cy="626.4" r="3.8"/><circle cx="1546.5" cy="624.7" r="3.8"/><circle cx="1553.7" cy="624" r="3.8"/><circle cx="1559.9" cy="626.4" r="3.8"/><circle cx="1565.2" cy="627.6" r="3.8"/><circle cx="1569.6" cy="625.4" r="3.8"/><circle cx="1573.5" cy="623.3" r="3.8"/><circle cx="1301.5" cy="536.5" r="3.8"/></g>
<text x="1271.7" y="558.2" text-anchor="end" font-size="12" textLength="87.3" lengthAdjust="spacingAndGlyphs">18 / worker (12)</text>
<g fill="#f0e442"><circle cx="1149.4" cy="629" r="3.8"/><circle cx="1165.7" cy="628.6" r="3.8"/><circle cx="1182.9" cy="627.6" r="3.8"/><circle cx="1192.6" cy="626.4" r="3.8"/><circle cx="1208.7" cy="624.7" r="3.8"/><circle cx="1225.6" cy="626.4" r="3.8"/><circle cx="1237.5" cy="629.3" r="3.8"/><circle cx="1251.9" cy="625.9" r="3.8"/><circle cx="1267" cy="624.3" r="3.8"/><circle cx="1282.4" cy="623.6" r="3.8"/><circle cx="1298.2" cy="628" r="3.8"/><circle cx="1312.6" cy="625.7" r="3.8"/><circle cx="1327.4" cy="632.3" r="3.8"/><circle cx="1342.5" cy="626.4" r="3.8"/><circle cx="1358.2" cy="625.1" r="3.8"/><circle cx="1373.4" cy="623" r="3.8"/><circle cx="1388.5" cy="629.7" r="3.8"/><circle cx="1403.8" cy="624" r="3.8"/><circle cx="1419" cy="625.4" r="3.8"/><circle cx="1434.4" cy="631.6" r="3.8"/><circle cx="1449.6" cy="628.7" r="3.8"/><circle cx="1464.7" cy="620.4" r="3.8"/><circle cx="1480.1" cy="629" r="3.8"/><circle cx="1495.2" cy="622.6" r="3.8"/><circle cx="1510.6" cy="631.6" r="3.8"/><circle cx="1525.8" cy="628" r="3.8"/><circle cx="1537.6" cy="624.7" r="3.8"/><circle cx="1546.5" cy="620.4" r="3.8"/><circle cx="1553.7" cy="623.6" r="3.8"/><circle cx="1559.9" cy="624.7" r="3.8"/><circle cx="1565.2" cy="621.8" r="3.8"/><circle cx="1569.6" cy="623.3" r="3.8"/><circle cx="1573.5" cy="622.3" r="3.8"/><circle cx="1301.5" cy="554.5" r="3.8"/></g>
<path d="M1129.5 464.5H1575V742.5H1129.5Z" fill="none" stroke="#000" stroke-width="1"/>
</svg>
</body></html>
